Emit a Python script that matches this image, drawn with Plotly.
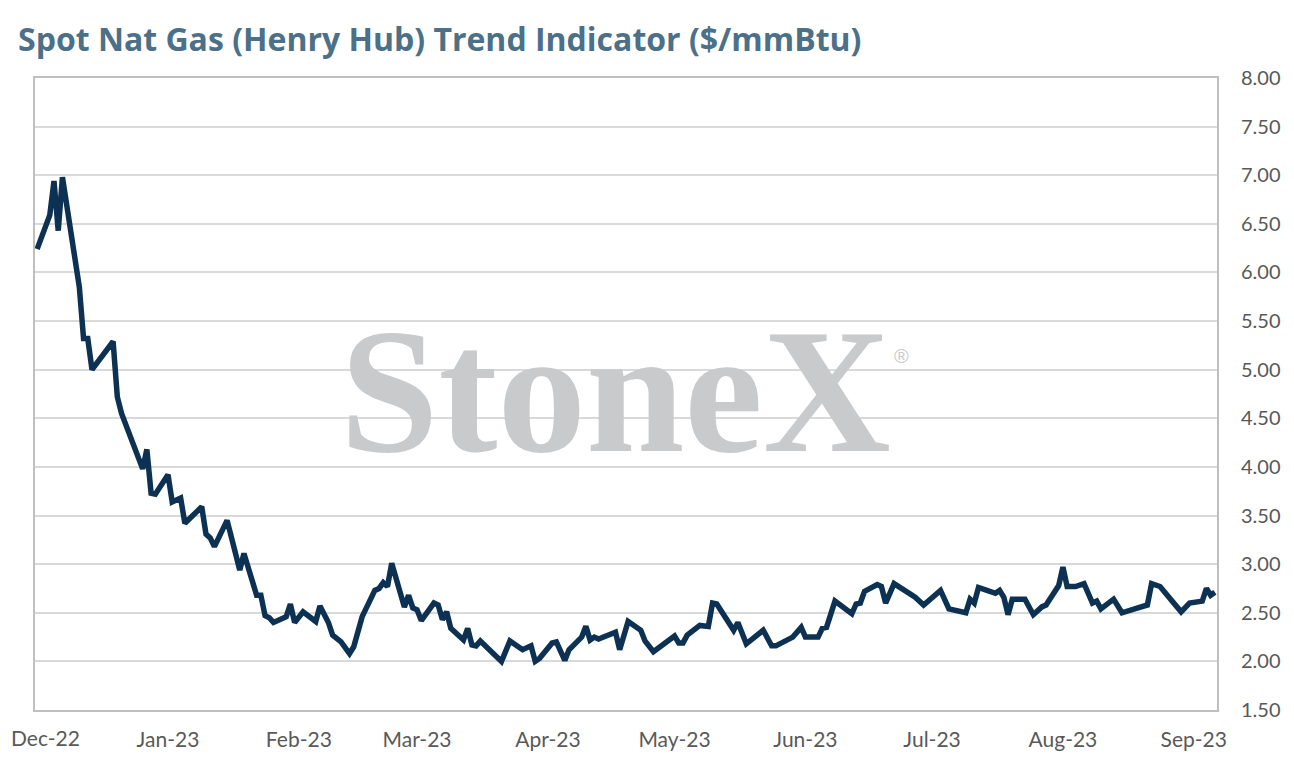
import plotly.graph_objects as go

# Henry Hub spot trend indicator ($/mmBtu)
dates = [
    "2022-12-01", "2022-12-04", "2022-12-05", "2022-12-06", "2022-12-07", "2022-12-08",
    "2022-12-11", "2022-12-12", "2022-12-13", "2022-12-14", "2022-12-19", "2022-12-20",
    "2022-12-21", "2022-12-26", "2022-12-27", "2022-12-28", "2022-12-29", "2023-01-01",
    "2023-01-02", "2023-01-04", "2023-01-05", "2023-01-09", "2023-01-10", "2023-01-11",
    "2023-01-12", "2023-01-15", "2023-01-17", "2023-01-18", "2023-01-19", "2023-01-22",
    "2023-01-23", "2023-01-24", "2023-01-25", "2023-01-26", "2023-01-29", "2023-01-30",
    "2023-01-31", "2023-02-02", "2023-02-05", "2023-02-06", "2023-02-08", "2023-02-09",
    "2023-02-11", "2023-02-13", "2023-02-14", "2023-02-16", "2023-02-19", "2023-02-20",
    "2023-02-21", "2023-02-22", "2023-02-23", "2023-02-25", "2023-02-26", "2023-02-27",
    "2023-02-28", "2023-03-01", "2023-03-02", "2023-03-05", "2023-03-06", "2023-03-07",
    "2023-03-08", "2023-03-09", "2023-03-12", "2023-03-13", "2023-03-14", "2023-03-15",
    "2023-03-16", "2023-03-21", "2023-03-23", "2023-03-26", "2023-03-28", "2023-03-29",
    "2023-03-30", "2023-04-02", "2023-04-03", "2023-04-05", "2023-04-06", "2023-04-09",
    "2023-04-10", "2023-04-11", "2023-04-12", "2023-04-13", "2023-04-17", "2023-04-18",
    "2023-04-20", "2023-04-23", "2023-04-24", "2023-04-26", "2023-05-01", "2023-05-02",
    "2023-05-03", "2023-05-04", "2023-05-07", "2023-05-09", "2023-05-10", "2023-05-11",
    "2023-05-15", "2023-05-16", "2023-05-18", "2023-05-22", "2023-05-24", "2023-05-25",
    "2023-05-29", "2023-05-31", "2023-06-01", "2023-06-04", "2023-06-05", "2023-06-06",
    "2023-06-08", "2023-06-12", "2023-06-13", "2023-06-14", "2023-06-15", "2023-06-18",
    "2023-06-19", "2023-06-20", "2023-06-22", "2023-06-27", "2023-06-29", "2023-07-03",
    "2023-07-05", "2023-07-09", "2023-07-10", "2023-07-11", "2023-07-12", "2023-07-14",
    "2023-07-16", "2023-07-17", "2023-07-18", "2023-07-19", "2023-07-20", "2023-07-23",
    "2023-07-25", "2023-07-27", "2023-07-28", "2023-07-31", "2023-08-01", "2023-08-02",
    "2023-08-04", "2023-08-06", "2023-08-08", "2023-08-09", "2023-08-10", "2023-08-13",
    "2023-08-15", "2023-08-18", "2023-08-21", "2023-08-22", "2023-08-24", "2023-08-29",
    "2023-08-31", "2023-09-03", "2023-09-04", "2023-09-05", "2023-09-06",
]
prices = [
    6.24, 6.59, 6.94, 6.43, 6.98, 6.68,
    5.85, 5.32, 5.32, 5.00, 5.29, 4.72,
    4.55, 3.98, 4.18, 3.73, 3.72, 3.92,
    3.64, 3.68, 3.42, 3.59, 3.31, 3.27,
    3.18, 3.45, 3.08, 2.94, 3.11, 2.68,
    2.68, 2.47, 2.45, 2.40, 2.46, 2.59,
    2.40, 2.51, 2.41, 2.57, 2.40, 2.27,
    2.20, 2.08, 2.15, 2.46, 2.73, 2.75,
    2.81, 2.77, 3.01, 2.73, 2.56, 2.68,
    2.55, 2.53, 2.42, 2.60, 2.58, 2.43,
    2.51, 2.34, 2.22, 2.34, 2.17, 2.16,
    2.21, 2.00, 2.21, 2.12, 2.16, 2.00,
    2.03, 2.19, 2.20, 2.01, 2.12, 2.25,
    2.36, 2.22, 2.25, 2.23, 2.30, 2.12,
    2.41, 2.32, 2.21, 2.10, 2.26, 2.19,
    2.19, 2.27, 2.37, 2.36, 2.60, 2.59,
    2.32, 2.40, 2.18, 2.32, 2.16, 2.16,
    2.25, 2.35, 2.25, 2.25, 2.34, 2.35,
    2.62, 2.49, 2.59, 2.60, 2.72, 2.79,
    2.77, 2.60, 2.80, 2.66, 2.58, 2.73,
    2.54, 2.50, 2.64, 2.60, 2.76, 2.73,
    2.70, 2.73, 2.66, 2.48, 2.64, 2.64,
    2.48, 2.56, 2.58, 2.78, 2.97, 2.77,
    2.77, 2.80, 2.60, 2.62, 2.54, 2.64,
    2.50, 2.54, 2.58, 2.80, 2.77, 2.51,
    2.60, 2.62, 2.75, 2.68, 2.71,
]

month_ticks = ["2022-12-01", "2023-01-01", "2023-02-01", "2023-03-01", "2023-04-01",
               "2023-05-01", "2023-06-01", "2023-07-01", "2023-08-01", "2023-09-01"]
month_labels = ["Dec-22", "Jan-23", "Feb-23", "Mar-23", "Apr-23",
                "May-23", "Jun-23", "Jul-23", "Aug-23", "Sep-23"]

tick_font = dict(family="Lato", size=21, color="#595959")

fig = go.Figure()

fig.add_trace(go.Scatter(
    x=dates,
    y=prices,
    mode="lines",
    line=dict(color="#0c3152", width=5.5),
    showlegend=False,
))

# StoneX watermark in the middle of the plot
fig.add_annotation(
    text="<b>StoneX</b>", xref="paper", yref="paper", x=0.4907, y=0.505,
    xanchor="center", yanchor="middle", showarrow=False,
    font=dict(family="Liberation Serif", size=177, color="#c9cacc"),
)
fig.add_annotation(
    text="®", xref="paper", yref="paper", x=0.725, y=0.56,
    xanchor="left", yanchor="middle", showarrow=False,
    font=dict(family="Liberation Sans", size=20, color="#c9cacc"),
)

# first month label sits partly left of the plot, so it is placed by hand
# to stay inside the page
fig.add_annotation(
    text=month_labels[0], xref="paper", yref="paper", x=-0.0220, y=-0.0443,
    xanchor="left", yanchor="middle", showarrow=False, font=tick_font,
)

fig.update_layout(
    width=1294,
    height=771,
    margin=dict(l=27, r=85, t=70, b=69),
    paper_bgcolor="white",
    plot_bgcolor="white",
    title=dict(
        text="<b>Spot Nat Gas (Henry Hub) Trend Indicator ($/mmBtu)</b>",
        x=10 / 1294, xanchor="left", xref="container",
        y=1 - 32 / 771, yanchor="middle", yref="container",
        font=dict(family="Open Sans", size=32, color="#4b7088"),
    ),
    xaxis=dict(
        type="date",
        range=["2022-11-30 12:00", "2023-09-06 12:00"],
        tickvals=month_ticks,
        ticktext=[""] + month_labels[1:],
        showgrid=False,
        showline=True, mirror=True, linecolor="#bfbfbf", linewidth=2,
        ticks="",
        ticklabelstandoff=10,
        automargin=False,
        tickfont=tick_font,
    ),
    yaxis=dict(
        side="right",
        range=[1.5, 8.0],
        tickvals=[1.5 + 0.5 * i for i in range(14)],
        tickformat=".2f",
        showgrid=True, gridcolor="#d9d9d9", gridwidth=2,
        showline=True, mirror=True, linecolor="#bfbfbf", linewidth=2,
        zeroline=False,
        ticks="",
        ticklabelstandoff=18,
        automargin=False,
        tickfont=dict(family="Lato", size=20, color="#595959"),
    ),
)

fig.write_html("out.html")
